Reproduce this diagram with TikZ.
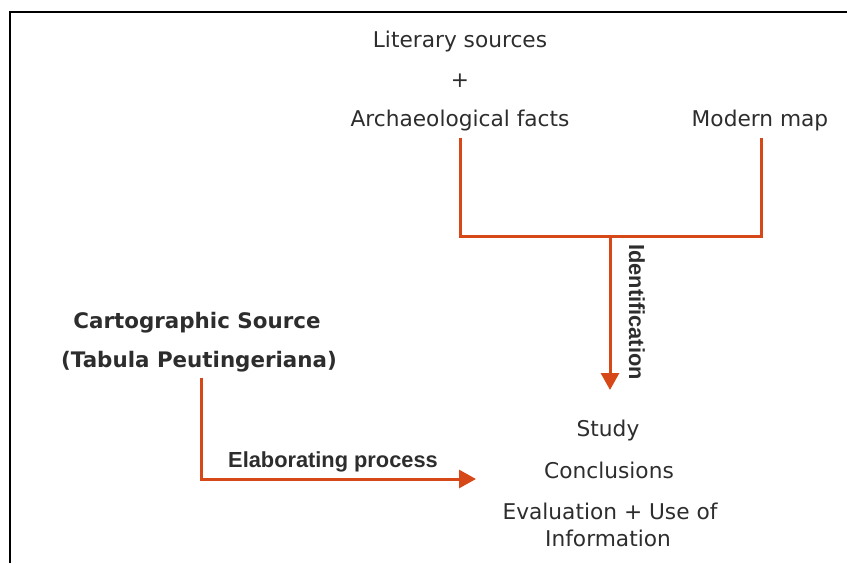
\documentclass[tikz,border=0pt]{standalone}
\usepackage{fontspec}
\setmainfont{DejaVu Sans}
\newfontfamily\arialfont{Liberation Sans}
\usetikzlibrary{arrows.meta}

\definecolor{linkred}{RGB}{214,72,24}
\definecolor{txtgray}{RGB}{45,45,45}

\tikzset{
  txt/.style={text=txtgray, inner sep=0pt, font=\fontsize{21.7}{26}\selectfont},
  boldtxt/.style={text=txtgray, inner sep=0pt, font=\fontsize{21.4}{26}\selectfont\bfseries},
  proclbl/.style={text=txtgray, inner sep=0pt, font=\arialfont\fontsize{21.8}{26}\selectfont\bfseries},
  link/.style={linkred, line width=3pt},
  linkarrow/.style={link, -{Triangle[length=17pt,width=18pt]}}
}

\begin{document}
\begin{tikzpicture}[x=1pt,y=-1pt]
\useasboundingbox (0,0) rectangle (847,563);
\draw [line width=2pt] (10,563) -- (10,12) -- (847,12);

% sources
\node[txt] (lit) at (460,42) {Literary sources};
\node[txt] (plus) at (460,81) {+};
\node[txt] (arch) at (460,121) {Archaeological facts};
\node[txt] (map) at (760,121) {Modern map};

\coordinate (archdown) at (460,236);
\coordinate (mapdown) at (761,236);
\coordinate (join) at (610,236);
\coordinate (idend) at (610,390);
\draw [link] ([yshift=-6pt]arch.south) -- (archdown) -- (mapdown) -- ([xshift=1pt,yshift=-6pt]map.south);
\draw [linkarrow] (join) -- (idend);
\node[proclbl, rotate=-90] (ident) at (637,312) {Identification};

% cartographic source
\node[boldtxt] (carto) at (197,323) {Cartographic Source};
\node[boldtxt] (tabula) at (199,362) {(Tabula Peutingeriana)};
\coordinate (elabend) at (476,479);
\draw [linkarrow] ([xshift=2pt,yshift=-5pt]tabula.south) |- (elabend);
\node[proclbl] (elab) at (333,462) {Elaborating process};

% results
\node[txt] (study) at (608,431) {Study};
\node[txt] (concl) at (609,470) {Conclusions};
\node[txt] (evalu) at (610,511) {Evaluation + Use of};
\node[txt] (info) at (608,538) {Information};
\end{tikzpicture}
\end{document}
